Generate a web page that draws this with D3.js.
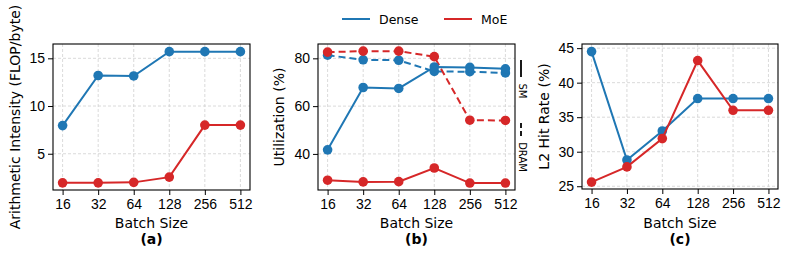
<!DOCTYPE html>
<html lang="en">
<head>
  <meta charset="utf-8" />
  <style>
    body { margin: 0; background: #fff; }
    svg { font-family: "DejaVu Sans", sans-serif; }
    .grid line { stroke: #d0d0d0; stroke-width: 0.8px; stroke-dasharray: 3,2; }
    .axis path, .axis line { stroke: #000; stroke-width: 1px; }
    .axis text { font-size: 14px; fill: #000; }
  </style>
</head>
<body>
<svg width="792" height="255"></svg>
<script src="https://d3js.org/d3.v7.min.js"></script>
<script>
var batch = ["16", "32", "64", "128", "256", "512"];

var aiDense = [7.95, 13.2, 13.15, 15.7, 15.7, 15.7];
var aiMoE = [1.95, 1.95, 2.0, 2.55, 8.0, 8.0];

var smDense = [41.7, 67.8, 67.4, 76.4, 76.2, 75.6];
var dramDense = [81.3, 79.4, 79.2, 74.5, 74.4, 73.9];
var smMoE = [29.0, 28.3, 28.4, 34.1, 27.8, 27.8];
var dramMoE = [82.6, 83.0, 83.0, 80.7, 54.1, 54.0];

var l2Dense = [44.5, 28.8, 33.0, 37.7, 37.7, 37.7];
var l2MoE = [25.6, 27.8, 31.9, 43.2, 36.0, 36.0];

var blue = "#1f77b4", red = "#d62728";

var svg = d3.select("svg");

var panels = [
  { left: 53, right: 250, top: 44, bottom: 190, domain: [1.2, 16.5], ticks: [5, 10, 15],
    ylabel: "Arithmetic Intensity (FLOP/byte)", ylx: 15, tag: "(a)",
    series: [{ v: aiDense, c: blue }, { v: aiMoE, c: red }] },
  { left: 318, right: 515, top: 44, bottom: 190, domain: [24.9, 86], ticks: [40, 60, 80],
    ylabel: "Utilization (%)", ylx: 279, tag: "(b)",
    series: [{ v: dramDense, c: blue, dash: true }, { v: dramMoE, c: red, dash: true },
             { v: smDense, c: blue }, { v: smMoE, c: red }] },
  { left: 582, right: 778, top: 44, bottom: 189, domain: [24.6, 45.6], ticks: [25, 30, 35, 40, 45],
    ylabel: "L2 Hit Rate (%)", ylx: 544, tag: "(c)",
    series: [{ v: l2Dense, c: blue }, { v: l2MoE, c: red }] }
];

panels.forEach(function(p) {
  var x = d3.scalePoint().domain(batch).range([p.left, p.right]).padding(0.27);
  var y = d3.scaleLinear().domain(p.domain).range([p.bottom, p.top]);

  // grid
  var g = svg.append("g").attr("class", "grid");
  g.selectAll(".gx").data(batch).enter().append("line")
    .attr("x1", function(d) { return x(d); }).attr("x2", function(d) { return x(d); })
    .attr("y1", p.top).attr("y2", p.bottom);
  g.selectAll(".gy").data(p.ticks).enter().append("line")
    .attr("x1", p.left).attr("x2", p.right)
    .attr("y1", function(d) { return y(d); }).attr("y2", function(d) { return y(d); });

  var line = d3.line().x(function(d, i) { return x(batch[i]); }).y(function(d) { return y(d); });

  p.series.forEach(function(s) {
    svg.append("path").datum(s.v)
      .attr("d", line)
      .attr("fill", "none")
      .attr("stroke", s.c)
      .attr("stroke-width", 2)
      .attr("stroke-dasharray", s.dash ? "7,4" : null);
    svg.append("g").selectAll("circle").data(s.v).enter().append("circle")
      .attr("cx", function(d, i) { return x(batch[i]); })
      .attr("cy", function(d) { return y(d); })
      .attr("r", 4.8)
      .attr("fill", s.c);
  });

  // frame
  svg.append("rect")
    .attr("x", p.left).attr("y", p.top)
    .attr("width", p.right - p.left).attr("height", p.bottom - p.top)
    .attr("fill", "none").attr("stroke", "#000").attr("stroke-width", 1.1);

  svg.append("g").attr("class", "axis")
    .attr("transform", "translate(0," + p.bottom + ")")
    .call(d3.axisBottom(x).tickSize(5).tickPadding(4))
    .call(function(a) { a.select(".domain").remove(); });

  svg.append("g").attr("class", "axis")
    .attr("transform", "translate(" + p.left + ",0)")
    .call(d3.axisLeft(y).tickValues(p.ticks).tickSize(5).tickPadding(3))
    .call(function(a) { a.select(".domain").remove(); });

  var cx = (x(batch[0]) + x(batch[5])) / 2;
  svg.append("text").attr("x", cx).attr("y", 228)
    .attr("text-anchor", "middle").attr("font-size", 14).text("Batch Size");
  svg.append("text").attr("x", cx).attr("y", 244)
    .attr("text-anchor", "middle").attr("font-size", 14).attr("font-weight", "bold").text(p.tag);

  svg.append("text")
    .attr("transform", "translate(" + (p.ylx + 5) + "," + ((p.top + p.bottom) / 2) + ") rotate(-90)")
    .attr("text-anchor", "middle").attr("font-size", 14).text(p.ylabel);
});

// SM / DRAM key on panel (b)
var key = svg.append("g");
key.append("line").attr("x1", 521).attr("x2", 521).attr("y1", 60).attr("y2", 77)
  .attr("stroke", "#000").attr("stroke-width", 1.8);
key.append("text").attr("transform", "translate(519,91) rotate(90)")
  .attr("text-anchor", "middle").attr("font-size", 10).text("SM");
key.append("line").attr("x1", 521).attr("x2", 521).attr("y1", 123).attr("y2", 137)
  .attr("stroke", "#000").attr("stroke-width", 1.8).attr("stroke-dasharray", "5,3");
key.append("text").attr("transform", "translate(519,157) rotate(90)")
  .attr("text-anchor", "middle").attr("font-size", 10).text("DRAM");

// legend
var legend = [{ name: "Dense", c: blue, x: 342 }, { name: "MoE", c: red, x: 444 }];
legend.forEach(function(l) {
  svg.append("line").attr("x1", l.x).attr("x2", l.x + 28).attr("y1", 19).attr("y2", 19)
    .attr("stroke", l.c).attr("stroke-width", 2);
  svg.append("text").attr("x", l.x + 37).attr("y", 23.5).attr("font-size", 12.5).text(l.name);
});
</script>
</body>
</html>
